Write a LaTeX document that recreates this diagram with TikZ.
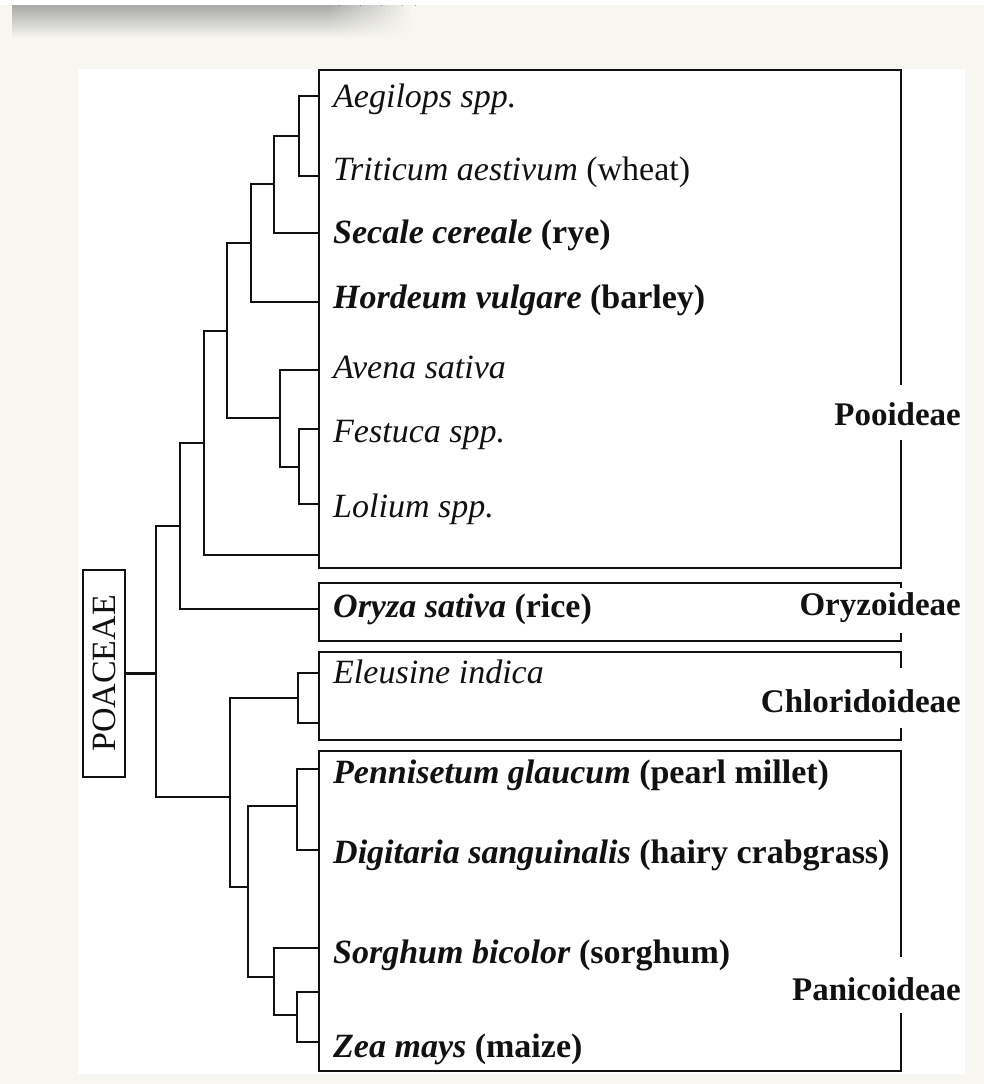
\documentclass[tikz,border=0pt]{standalone}
\usepackage{fontspec}
\setmainfont{Liberation Serif}
\definecolor{bg}{HTML}{F7F6F1}
\definecolor{band}{HTML}{A9A9A6}
\definecolor{ink}{HTML}{111111}
\begin{document}
\begin{tikzpicture}[x=1pt,y=-1pt,
  tree/.style={draw=ink, line width=2.6pt},
  cladebox/.style={draw=ink, line width=2.6pt},
  leaf/.style={anchor=base west, inner sep=0pt, text=ink, font=\fontsize{34}{38}\selectfont},
  clade/.style={fill=white, anchor=base east, inner xsep=2pt, inner ysep=0pt, text=ink, font=\fontsize{33}{36}\selectfont\bfseries},
  famname/.style={draw=ink, line width=2.6pt, rotate=90, minimum width=207pt, minimum height=42pt, inner sep=0pt, text=ink, font=\fontsize{34}{38}\selectfont}
]
% background and panel
\useasboundingbox (0,0) rectangle (984,1084);
\fill[bg] (0,0) rectangle (984,1084);
\fill[white] (0,0) rectangle (984,5);
\fill[top color=band, bottom color=bg, shading angle=0] (12,5) rectangle (331.5,38);
\foreach \i in {0,...,19}{
  \pgfmathtruncatemacro{\p}{100-5*(\i+1)}
  \fill[top color=band!\p!bg, bottom color=bg] ({331+\i*4.2},5) rectangle ({331+(\i+1)*4.2+0.5},38);
}
\fill[white] (78,69) rectangle (965,1074);

% clade boxes
\draw[cladebox] (319,70) rectangle (901,568);
\draw[cladebox] (319,583) rectangle (901,641);
\draw[cladebox] (319,652) rectangle (901,740);
\draw[cladebox] (319,751) rectangle (901,1071);

% leaf attachment points
\coordinate (aeg-e) at (319,96);
\coordinate (tri-e) at (319,176);
\coordinate (sec-e) at (319,233);
\coordinate (hor-e) at (319,302);
\coordinate (ave-e) at (319,370);
\coordinate (fes-e) at (319,429);
\coordinate (lol-e) at (319,504);
\coordinate (poo-e) at (319,555);
\coordinate (ory-e) at (319,609);
\coordinate (ele-e) at (319,673);
\coordinate (elx-e) at (319,723);
\coordinate (pen-e) at (319,769);
\coordinate (dig-e) at (319,850);
\coordinate (sor-e) at (319,948);
\coordinate (zx-e) at (319,992);
\coordinate (zea-e) at (319,1042);

% internal nodes
\coordinate (n1) at (299,136);
\coordinate (n2) at (274,184);
\coordinate (n3) at (251,243);
\coordinate (n4) at (299,467);
\coordinate (n5) at (280,418);
\coordinate (n6) at (227,331);
\coordinate (n7) at (204,443);
\coordinate (n8) at (180,526);
\coordinate (root) at (156,673.5);
\coordinate (n9) at (230,797);
\coordinate (n10) at (298,698);
\coordinate (n11) at (248,887);
\coordinate (n12) at (297,806);
\coordinate (n13) at (274,977);
\coordinate (n14) at (297,1015);

% family box
\node[famname] (poa) at (104,673.5) {POACEAE};

% tree
\draw[tree] (aeg-e) -| (n1) |- (tri-e);
\draw[tree] (n1) -| (n2) |- (sec-e);
\draw[tree] (n2) -| (n3) |- (hor-e);
\draw[tree] (fes-e) -| (n4) |- (lol-e);
\draw[tree] (ave-e) -| (n5) |- (n4);
\draw[tree] (n3) -| (n6) |- (n5);
\draw[tree] (n6) -| (n7) |- (poo-e);
\draw[tree] (n7) -| (n8) |- (ory-e);
\draw[tree] (n8) -| (root) |- (n9);
\draw[tree] (ele-e) -| (n10) |- (elx-e);
\draw[tree] (n10) -| (n9) |- (n11);
\draw[tree] (pen-e) -| (n12) |- (dig-e);
\draw[tree] (n12) -| (n11) |- (n13);
\draw[tree] (sor-e) -| (n13) |- (n14);
\draw[tree] (zx-e) -| (n14) |- (zea-e);
\draw[tree] (poa.south) -- (root);

% leaf labels
\node[leaf] (aeg) at (333,107) {\textit{Aegilops spp.}};
\node[leaf] (tri) at (333,180) {\textit{Triticum aestivum} (wheat)};
\node[leaf] (sec) at (333,243) {\textbf{\textit{Secale cereale} (rye)}};
\node[leaf] (hor) at (333,308) {\textbf{\textit{Hordeum vulgare} (barley)}};
\node[leaf] (ave) at (333,378) {\textit{Avena sativa}};
\node[leaf] (fes) at (333,442) {\textit{Festuca spp.}};
\node[leaf] (lol) at (333,517) {\textit{Lolium spp.}};
\node[leaf] (ory) at (333,617) {\textbf{\textit{Oryza sativa} (rice)}};
\node[leaf] (ele) at (333,683) {\textit{Eleusine indica}};
\node[leaf] (pen) at (333,783) {\textbf{\textit{Pennisetum glaucum} (pearl millet)}};
\node[leaf] (dig) at (333,863) {\textbf{\textit{Digitaria sanguinalis} (hairy crabgrass)}};
\node[leaf] (sor) at (333,963) {\textbf{\textit{Sorghum bicolor} (sorghum)}};
\node[leaf] (zea) at (333,1057) {\textbf{\textit{Zea mays} (maize)}};

% clade labels
\node[clade, text height=40pt, text depth=15pt] (pooid) at (963,425) {Pooideae};
\node[clade, text height=27pt, text depth=18pt] (oryz) at (963,615) {Oryzoideae};
\node[clade, text height=44pt, text depth=16pt] (chlor) at (963,712) {Chloridoideae};
\node[clade, text height=43pt, text depth=13pt] (panic) at (963,1000) {Panicoideae};
\end{tikzpicture}
\end{document}
